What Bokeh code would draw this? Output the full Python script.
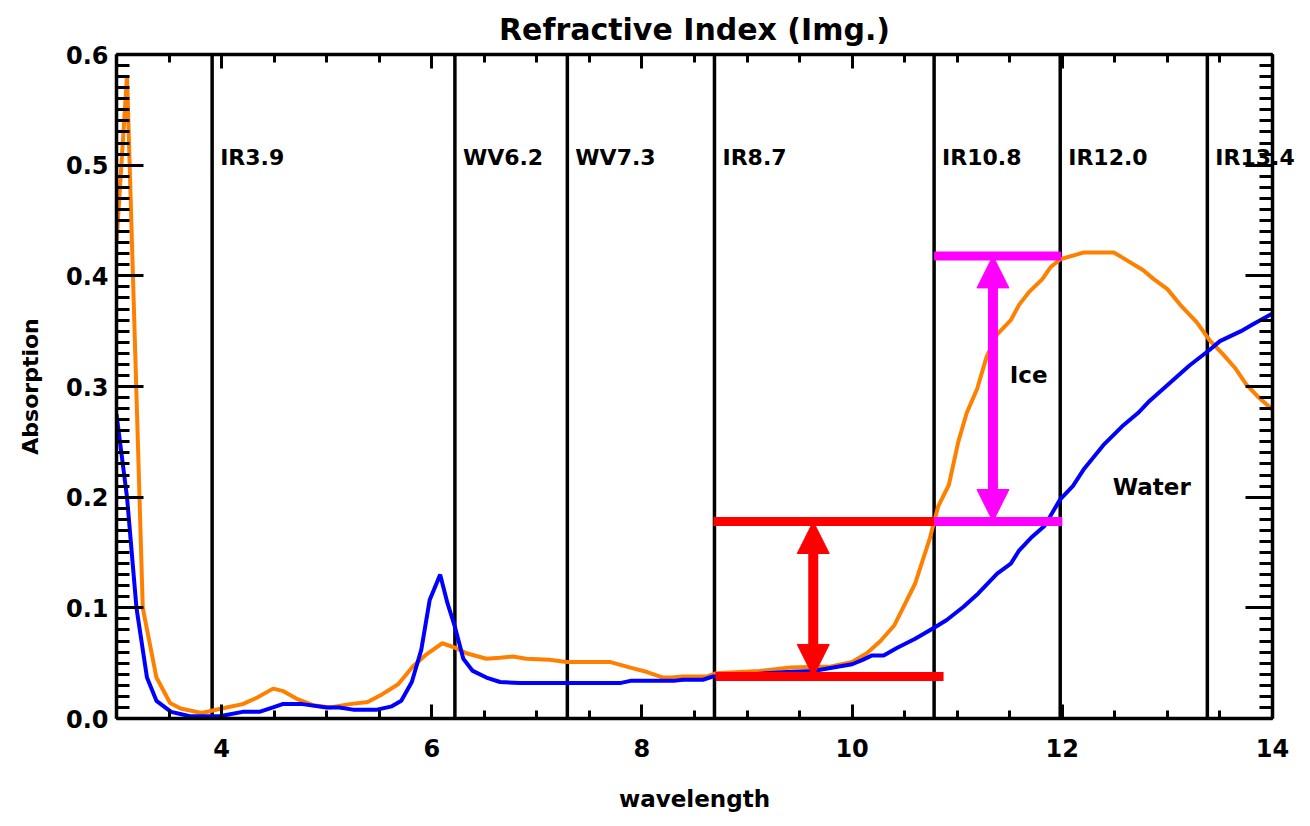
from bokeh.plotting import figure
from bokeh.models import (LinearAxis, FixedTicker, NumeralTickFormatter, Arrow,
                          NormalHead, Label)
from bokeh.embed import file_html
from bokeh.resources import INLINE

# ---------------- data ----------------
ice_x = [3.0, 3.1, 3.25, 3.38, 3.51, 3.61, 3.81, 4.0, 4.2, 4.34, 4.49, 4.58, 4.71, 4.87,
         5.03, 5.22, 5.39, 5.53, 5.68, 5.82, 5.95, 6.1, 6.22, 6.33, 6.52, 6.65, 6.77, 6.9,
         7.12, 7.28, 7.7, 7.89, 8.05, 8.2, 8.28, 8.39, 8.62, 8.71, 9.12, 9.41, 9.8, 10.0,
         10.14, 10.27, 10.4, 10.6, 10.74, 10.82, 10.92, 11.01, 11.09, 11.19, 11.28, 11.38,
         11.51, 11.59, 11.68, 11.81, 11.89, 11.98, 12.2, 12.49, 12.58, 12.77, 12.87, 13.0,
         13.12, 13.28, 13.4, 13.53, 13.65, 13.75, 13.87, 14.0]
ice_y = [0.43, 0.581, 0.10, 0.037, 0.014, 0.009, 0.005, 0.009, 0.013, 0.019, 0.027, 0.025,
         0.018, 0.012, 0.010, 0.013, 0.015, 0.022, 0.031, 0.047, 0.058, 0.068, 0.064, 0.059,
         0.054, 0.055, 0.056, 0.054, 0.053, 0.051, 0.051, 0.046, 0.042, 0.037, 0.037, 0.038,
         0.038, 0.041, 0.043, 0.046, 0.047, 0.051, 0.059, 0.070, 0.084, 0.122, 0.163, 0.192,
         0.211, 0.250, 0.276, 0.298, 0.327, 0.347, 0.360, 0.374, 0.385, 0.397, 0.408, 0.415,
         0.421, 0.421, 0.416, 0.405, 0.397, 0.388, 0.374, 0.358, 0.342, 0.329, 0.316, 0.302,
         0.290, 0.279]

water_x = [3.0, 3.1, 3.19, 3.29, 3.38, 3.52, 3.7, 3.98, 4.2, 4.36, 4.49, 4.58, 4.77, 5.0,
           5.12, 5.25, 5.48, 5.62, 5.71, 5.81, 5.9, 5.98, 6.08, 6.15, 6.22, 6.3, 6.39, 6.52,
           6.65, 6.84, 7.79, 7.89, 8.3, 8.39, 8.58, 8.68, 8.87, 9.38, 9.63, 9.82, 10.0, 10.1,
           10.19, 10.3, 10.43, 10.6, 10.78, 10.9, 11.06, 11.2, 11.38, 11.51, 11.59, 11.7,
           11.83, 11.98, 12.1, 12.21, 12.39, 12.57, 12.72, 12.83, 13.02, 13.21, 13.4, 13.5,
           13.7, 13.81, 14.0]
water_y = [0.275, 0.20, 0.10, 0.037, 0.016, 0.006, 0.002, 0.002, 0.006, 0.006, 0.010, 0.013,
           0.013, 0.010, 0.010, 0.008, 0.008, 0.011, 0.016, 0.033, 0.062, 0.107, 0.13, 0.104,
           0.083, 0.054, 0.043, 0.037, 0.033, 0.032, 0.032, 0.034, 0.034, 0.035, 0.035, 0.038,
           0.039, 0.042, 0.043, 0.046, 0.049, 0.053, 0.057, 0.057, 0.064, 0.072, 0.082, 0.089,
           0.101, 0.113, 0.131, 0.140, 0.152, 0.163, 0.174, 0.198, 0.210, 0.226, 0.247, 0.264,
           0.276, 0.287, 0.303, 0.319, 0.333, 0.341, 0.350, 0.356, 0.366]

channel_names = ["IR3.9", "WV6.2", "WV7.3", "IR8.7", "IR10.8", "IR12.0", "IR13.4"]
channel_pos = [3.91, 6.22, 7.29, 8.69, 10.78, 11.98, 13.38]

x_ticks = [4, 6, 8, 10, 12, 14]
y_ticks = [0.0, 0.1, 0.2, 0.3, 0.4, 0.5, 0.6]

# annotation values
red_top = {"x0": 8.68, "x1": 10.78, "y": 0.178}
mag_bottom = {"x0": 10.78, "x1": 12.0, "y": 0.178}
mag_top = {"x0": 10.78, "x1": 11.99, "y": 0.418}
red_bottom = {"x0": 8.70, "x1": 10.87, "y": 0.038}
red_arrow = {"x": 9.63, "y0": 0.038, "y1": 0.178}
mag_arrow = {"x": 11.34, "y0": 0.178, "y1": 0.418}

FONT = "DejaVu Sans"

# ---------------- figure ----------------
p = figure(frame_width=1156, frame_height=664, x_range=(3, 14), y_range=(0, 0.6),
           output_backend="svg", toolbar_location=None,
           min_border_left=116, min_border_right=30, min_border_top=54,
           min_border_bottom=100, background_fill_color="white",
           title="Refractive Index (Img.)")
p.title.align = "center"
p.title.text_font = FONT
p.title.text_font_size = "30px"
p.title.text_font_style = "bold"
p.title.text_color = "black"
p.title.standoff = 16
p.xgrid.visible = False
p.ygrid.visible = False
p.outline_line_color = None

xminor = [3 + 0.5 * i for i in range(23)]
yminor = [i / 100 for i in range(61)]


def style_x(ax, labels=True):
    ax.ticker = FixedTicker(ticks=x_ticks, minor_ticks=xminor)
    ax.axis_line_width = 3.5
    ax.axis_line_color = "black"
    ax.major_tick_in = 14
    ax.major_tick_out = 0
    ax.minor_tick_in = 8
    ax.minor_tick_out = 0
    ax.major_tick_line_width = 3
    ax.minor_tick_line_width = 3
    if labels:
        ax.major_label_text_font = FONT
        ax.major_label_text_font_style = "bold"
        ax.major_label_text_font_size = "24px"
        ax.major_label_text_color = "black"
        ax.major_label_standoff = 20
    else:
        ax.major_label_text_font_size = "1px"
        ax.major_label_text_color = None
        ax.major_label_standoff = 0


def style_y(ax, labels=True):
    ax.ticker = FixedTicker(ticks=y_ticks, minor_ticks=yminor)
    ax.axis_line_width = 3.5
    ax.axis_line_color = "black"
    ax.major_tick_in = 27
    ax.major_tick_out = 0
    ax.minor_tick_in = 13
    ax.minor_tick_out = 0
    ax.major_tick_line_width = 3
    ax.minor_tick_line_width = 3
    if labels:
        ax.formatter = NumeralTickFormatter(format="0.0")
        ax.major_label_text_font = FONT
        ax.major_label_text_font_style = "bold"
        ax.major_label_text_font_size = "24px"
        ax.major_label_text_color = "black"
        ax.major_label_standoff = 8
    else:
        ax.major_label_text_font_size = "1px"
        ax.major_label_text_color = None
        ax.major_label_standoff = 0


style_x(p.xaxis[0])
style_y(p.yaxis[0])
p.xaxis[0].axis_label = "wavelength"
p.xaxis[0].axis_label_text_font = FONT
p.xaxis[0].axis_label_text_font_style = "bold"
p.xaxis[0].axis_label_text_font_size = "23px"
p.xaxis[0].axis_label_text_color = "black"
p.xaxis[0].axis_label_standoff = 26
p.yaxis[0].axis_label = "Absorption"
p.yaxis[0].axis_label_text_font = FONT
p.yaxis[0].axis_label_text_font_style = "bold"
p.yaxis[0].axis_label_text_font_size = "22px"
p.yaxis[0].axis_label_text_color = "black"
p.yaxis[0].axis_label_standoff = 20

top = LinearAxis()
style_x(top, labels=False)
p.add_layout(top, "above")
right = LinearAxis()
style_y(right, labels=False)
p.add_layout(right, "right")

# channel lines and labels
p.segment(x0=channel_pos, y0=[0] * len(channel_pos), x1=channel_pos,
          y1=[0.6] * len(channel_pos), line_color="black", line_width=3.5)
for name, xpos in zip(channel_names, channel_pos):
    lab = Label(x=xpos, y=0.507, text=name, x_offset=8, text_font=FONT,
                text_font_style="bold", text_font_size="22px",
                text_color="black", text_baseline="middle", text_align="left")
    # the last label runs past the right edge of the frame, as in the original;
    # placing it in the right side panel keeps it from being clipped
    p.add_layout(lab, "right" if name == "IR13.4" else "center")

# curves
p.line(ice_x, ice_y, line_color="#FF8000", line_width=4)
p.line(water_x, water_y, line_color="#0000FF", line_width=4)

# annotation bars
for seg, col in [(red_top, "#FF0000"), (mag_bottom, "#FF00FF"),
                 (mag_top, "#FF00FF"), (red_bottom, "#FF0000")]:
    p.segment(x0=[seg["x0"]], y0=[seg["y"]], x1=[seg["x1"]], y1=[seg["y"]],
              line_color=col, line_width=9)

for arr, col in [(red_arrow, "#FF0000"), (mag_arrow, "#FF00FF")]:
    p.add_layout(Arrow(x_start=arr["x"], y_start=arr["y0"], x_end=arr["x"],
                       y_end=arr["y1"], line_color=col, line_width=10,
                       start=NormalHead(size=32, fill_color=col, line_color=col, line_width=1),
                       end=NormalHead(size=32, fill_color=col, line_color=col, line_width=1)))

p.add_layout(Label(x=11.50, y=0.299, text="Ice", text_font=FONT, text_font_style="bold",
                   text_font_size="23px", text_color="black"))
p.add_layout(Label(x=12.48, y=0.197, text="Water", text_font=FONT, text_font_style="bold",
                   text_font_size="23px", text_color="black"))

open("out.html", "w").write(file_html(p, INLINE))
